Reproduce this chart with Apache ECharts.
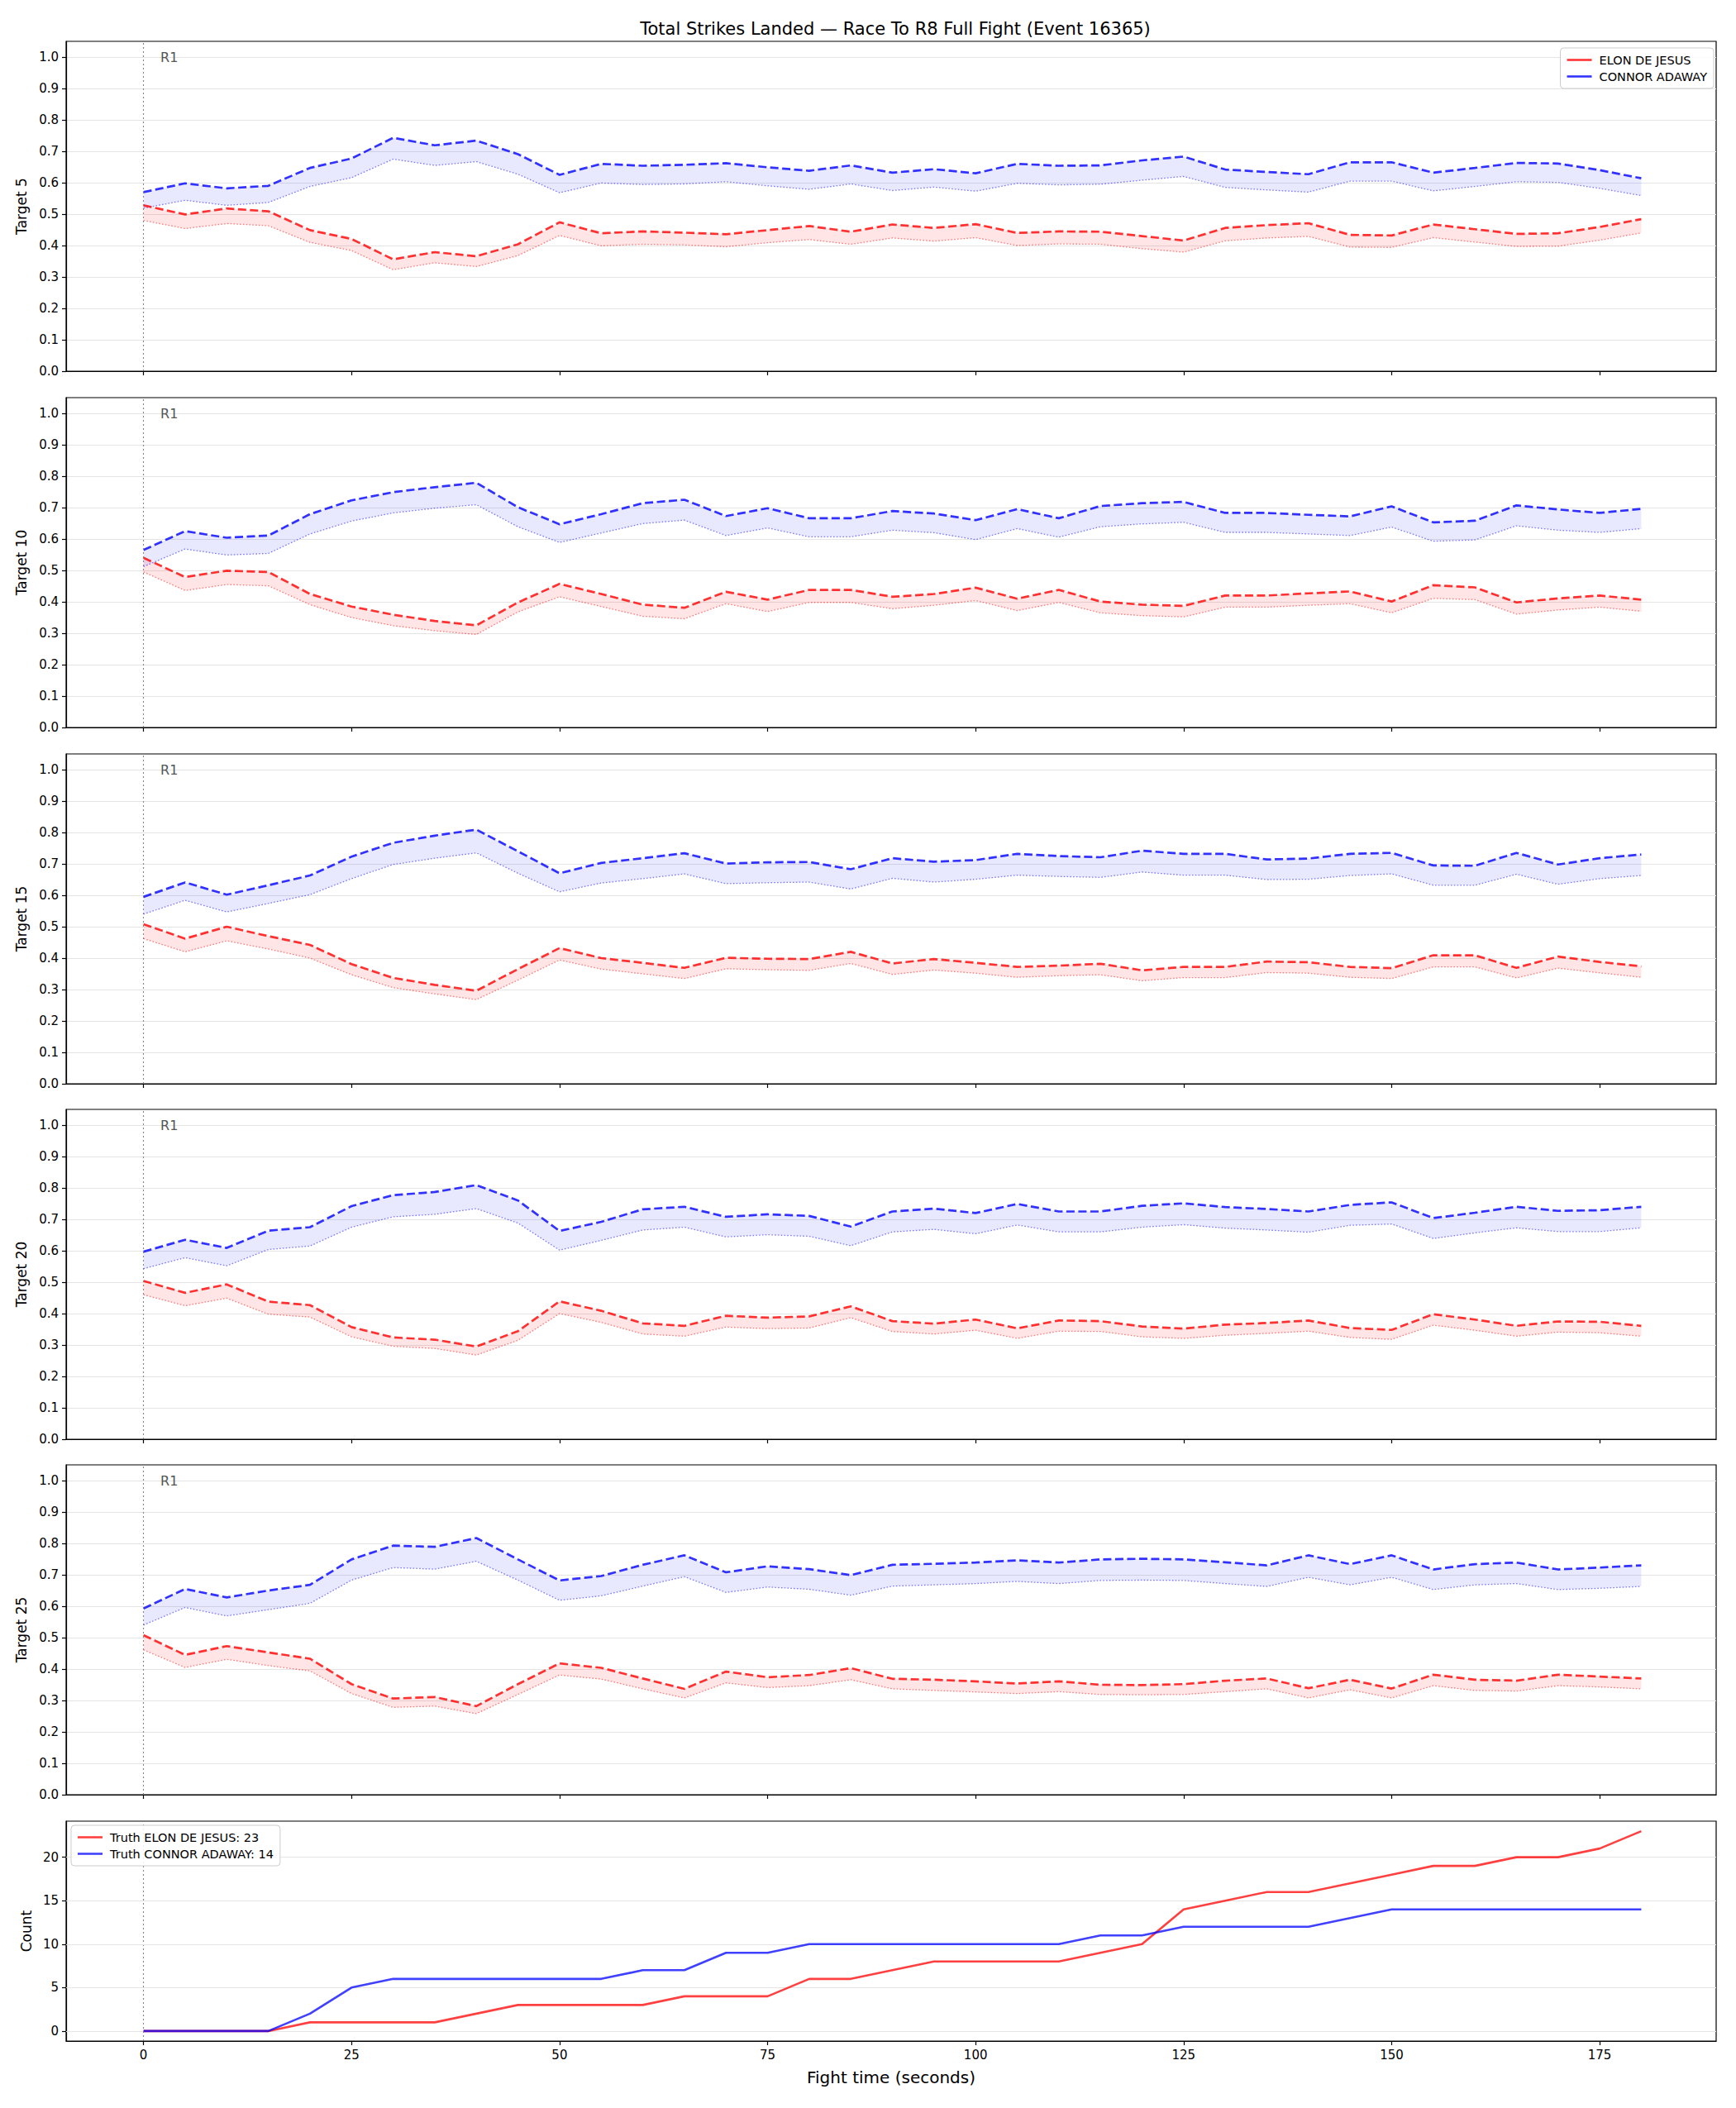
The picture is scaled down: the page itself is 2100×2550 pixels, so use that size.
<!DOCTYPE html>
<html><head><meta charset="utf-8">
<script src="https://cdn.jsdelivr.net/npm/echarts@6/dist/echarts.min.js"></script>
<style>html,body{margin:0;padding:0;background:#fff}#c{width:2100px;height:2550px}</style>
</head><body><div id="c"></div>
<script>
// ---------------- DATA ----------------
const titleText = 'Total Strikes Landed — Race To R8 Full Fight (Event 16365)';
const fighterA = 'ELON DE JESUS';
const fighterB = 'CONNOR ADAWAY';
const times = [0,5,10,15,20,25,30,35,40,45,50,55,60,65,70,75,80,85,90,95,100,105,110,115,120,125,130,135,140,145,150,155,160,165,170,175,180];
const targetNames = ['Target 5','Target 10','Target 15','Target 20','Target 25'];
const xTicks = [0,25,50,75,100,125,150,175];
const yTicksProb = [0,0.1,0.2,0.3,0.4,0.5,0.6,0.7,0.8,0.9,1.0];
const yTicksCount = [0,5,10,15,20];
const roundStarts = [0];
const roundLabels = ['R1'];

// Target 5
const t5_elon_hi = [0.528,0.499,0.518,0.509,0.449,0.421,0.356,0.379,0.366,0.404,0.474,0.439,0.445,0.441,0.436,0.449,0.462,0.444,0.467,0.456,0.468,0.440,0.445,0.444,0.430,0.416,0.456,0.465,0.471,0.434,0.432,0.467,0.452,0.437,0.439,0.459,0.484];
const t5_elon_lo = [0.480,0.454,0.470,0.463,0.410,0.384,0.323,0.345,0.333,0.368,0.432,0.399,0.404,0.402,0.396,0.409,0.419,0.404,0.424,0.414,0.425,0.400,0.405,0.404,0.390,0.379,0.415,0.424,0.429,0.395,0.394,0.425,0.411,0.397,0.398,0.417,0.440];
const t5_connor_hi = [0.570,0.598,0.582,0.590,0.647,0.677,0.743,0.719,0.734,0.691,0.625,0.660,0.654,0.657,0.662,0.649,0.638,0.655,0.632,0.643,0.630,0.660,0.654,0.655,0.671,0.683,0.642,0.634,0.627,0.665,0.665,0.632,0.647,0.663,0.661,0.640,0.614];
const t5_connor_lo = [0.519,0.544,0.528,0.537,0.588,0.616,0.675,0.655,0.667,0.627,0.568,0.599,0.594,0.596,0.603,0.590,0.579,0.596,0.575,0.586,0.573,0.598,0.593,0.595,0.608,0.620,0.585,0.577,0.570,0.605,0.605,0.574,0.588,0.603,0.601,0.582,0.559];
// Target 10
const t10_elon_hi = [0.540,0.479,0.499,0.495,0.425,0.385,0.359,0.339,0.325,0.398,0.457,0.425,0.391,0.381,0.432,0.407,0.438,0.438,0.416,0.425,0.445,0.410,0.438,0.401,0.391,0.387,0.420,0.420,0.427,0.433,0.401,0.453,0.446,0.398,0.411,0.420,0.407];
const t10_elon_lo = [0.495,0.436,0.455,0.451,0.391,0.350,0.324,0.308,0.296,0.368,0.416,0.385,0.354,0.346,0.394,0.369,0.398,0.398,0.378,0.389,0.404,0.372,0.398,0.365,0.356,0.352,0.383,0.383,0.389,0.394,0.365,0.411,0.407,0.361,0.374,0.383,0.370];
const t10_connor_hi = [0.565,0.625,0.604,0.611,0.679,0.723,0.749,0.765,0.779,0.701,0.647,0.679,0.714,0.725,0.673,0.698,0.666,0.666,0.689,0.681,0.660,0.695,0.666,0.705,0.714,0.718,0.683,0.683,0.677,0.672,0.704,0.653,0.658,0.707,0.694,0.683,0.696];
const t10_connor_lo = [0.512,0.568,0.549,0.554,0.616,0.657,0.683,0.698,0.709,0.639,0.589,0.619,0.649,0.660,0.611,0.635,0.607,0.607,0.628,0.620,0.598,0.633,0.606,0.639,0.648,0.653,0.621,0.621,0.616,0.611,0.638,0.593,0.597,0.642,0.628,0.621,0.633];
// Target 15
const t15_elon_hi = [0.508,0.462,0.500,0.470,0.442,0.381,0.337,0.315,0.296,0.365,0.432,0.400,0.385,0.369,0.401,0.398,0.397,0.420,0.383,0.397,0.385,0.372,0.376,0.382,0.361,0.372,0.372,0.389,0.387,0.372,0.368,0.409,0.409,0.369,0.405,0.388,0.374];
const t15_elon_lo = [0.462,0.420,0.455,0.429,0.400,0.347,0.306,0.286,0.268,0.330,0.394,0.365,0.350,0.335,0.366,0.363,0.361,0.383,0.348,0.362,0.352,0.339,0.344,0.347,0.328,0.338,0.338,0.354,0.352,0.339,0.335,0.372,0.372,0.337,0.368,0.353,0.339];
const t15_connor_hi = [0.595,0.641,0.602,0.632,0.663,0.723,0.767,0.790,0.809,0.740,0.670,0.703,0.718,0.734,0.701,0.705,0.706,0.683,0.718,0.707,0.712,0.732,0.725,0.721,0.742,0.732,0.732,0.714,0.717,0.732,0.735,0.695,0.694,0.735,0.698,0.718,0.730];
const t15_connor_lo = [0.540,0.584,0.547,0.574,0.602,0.653,0.698,0.718,0.735,0.670,0.611,0.639,0.653,0.668,0.637,0.640,0.642,0.620,0.654,0.642,0.651,0.664,0.660,0.657,0.674,0.664,0.664,0.650,0.651,0.663,0.668,0.632,0.632,0.667,0.635,0.653,0.663];
// Target 20
const t20_elon_hi = [0.504,0.466,0.493,0.438,0.427,0.357,0.324,0.317,0.295,0.344,0.439,0.409,0.369,0.361,0.393,0.387,0.391,0.423,0.376,0.368,0.381,0.353,0.378,0.376,0.359,0.352,0.365,0.370,0.378,0.354,0.348,0.398,0.381,0.361,0.375,0.374,0.361];
const t20_elon_lo = [0.460,0.425,0.449,0.398,0.389,0.326,0.296,0.289,0.268,0.315,0.400,0.372,0.335,0.328,0.357,0.352,0.354,0.387,0.343,0.335,0.347,0.321,0.344,0.343,0.326,0.321,0.331,0.337,0.344,0.324,0.318,0.363,0.347,0.328,0.341,0.339,0.328];
const t20_connor_hi = [0.597,0.635,0.609,0.664,0.675,0.742,0.777,0.787,0.809,0.760,0.663,0.692,0.732,0.740,0.708,0.716,0.711,0.677,0.725,0.734,0.720,0.749,0.725,0.725,0.743,0.751,0.739,0.733,0.725,0.746,0.754,0.704,0.721,0.740,0.727,0.729,0.740];
const t20_connor_lo = [0.543,0.578,0.552,0.604,0.615,0.675,0.708,0.716,0.734,0.688,0.602,0.633,0.666,0.675,0.644,0.651,0.646,0.616,0.660,0.668,0.654,0.682,0.660,0.660,0.675,0.683,0.672,0.666,0.659,0.681,0.685,0.639,0.657,0.673,0.661,0.661,0.673];
// Target 25
const t25_elon_hi = [0.508,0.445,0.473,0.453,0.433,0.352,0.306,0.311,0.282,0.352,0.418,0.404,0.370,0.337,0.392,0.374,0.381,0.403,0.369,0.366,0.361,0.354,0.361,0.350,0.349,0.352,0.363,0.370,0.339,0.366,0.338,0.382,0.366,0.363,0.382,0.376,0.370];
const t25_elon_lo = [0.461,0.405,0.431,0.411,0.394,0.322,0.278,0.282,0.258,0.319,0.381,0.368,0.337,0.308,0.356,0.341,0.347,0.366,0.337,0.332,0.327,0.322,0.328,0.319,0.318,0.319,0.328,0.337,0.308,0.334,0.308,0.347,0.332,0.330,0.347,0.343,0.337];
const t25_connor_hi = [0.593,0.655,0.628,0.650,0.668,0.749,0.793,0.789,0.817,0.749,0.682,0.696,0.732,0.762,0.708,0.727,0.718,0.699,0.732,0.735,0.739,0.746,0.739,0.749,0.751,0.749,0.740,0.730,0.762,0.734,0.762,0.717,0.734,0.739,0.717,0.723,0.730];
const t25_connor_lo = [0.540,0.596,0.569,0.589,0.609,0.683,0.723,0.718,0.743,0.683,0.619,0.633,0.664,0.694,0.644,0.661,0.654,0.635,0.664,0.668,0.672,0.679,0.672,0.682,0.683,0.682,0.672,0.663,0.692,0.668,0.692,0.653,0.668,0.672,0.653,0.657,0.663];
// Truth cumulative counts
const truth_elon = [0,0,0,0,1,1,1,1,2,3,3,3,3,4,4,4,6,6,7,8,8,8,8,9,10,14,15,16,16,17,18,19,19,20,20,21,23];
const truth_connor = [0,0,0,0,2,5,6,6,6,6,6,6,7,7,9,9,10,10,10,10,10,10,10,11,11,12,12,12,12,13,14,14,14,14,14,14,14];

// ---------------- CHART ----------------
const panels = [
  {name: targetNames[0], ehi: t5_elon_hi, elo: t5_elon_lo, chi: t5_connor_hi, clo: t5_connor_lo},
  {name: targetNames[1], ehi: t10_elon_hi, elo: t10_elon_lo, chi: t10_connor_hi, clo: t10_connor_lo},
  {name: targetNames[2], ehi: t15_elon_hi, elo: t15_elon_lo, chi: t15_connor_hi, clo: t15_connor_lo},
  {name: targetNames[3], ehi: t20_elon_hi, elo: t20_elon_lo, chi: t20_connor_hi, clo: t20_connor_lo},
  {name: targetNames[4], ehi: t25_elon_hi, elo: t25_elon_lo, chi: t25_connor_hi, clo: t25_connor_lo}
];
const FONT = 'DejaVu Sans';
const RED = '#ff0000', BLUE = '#0000ff';
const tops = [50, 481, 912, 1342, 1772];
const PH = 399;
const XMIN = -9.3, XMAX = 189;
const grids = [], xAxes = [], yAxes = [], series = [];

function mkX(i, showLabels) {
  return {
    type: 'value', gridIndex: i, min: XMIN, max: XMAX,
    axisLine: {show: true, onZero: false, lineStyle: {color: '#000', width: 1.2}},
    axisTick: {show: true, length: 5, inside: false, customValues: xTicks, lineStyle: {color: '#000', width: 1.2}},
    axisLabel: {show: showLabels, customValues: xTicks, margin: 9, color: '#000', fontSize: 15, fontFamily: FONT},
    splitLine: {show: false},
    name: showLabels ? 'Fight time (seconds)' : '', nameLocation: 'middle', nameGap: 34,
    nameTextStyle: {fontSize: 20, color: '#000', fontFamily: FONT}
  };
}
function pairs(arr) { return times.map((t, j) => [t, arr[j]]); }

function addBand(gi, lo, hi, color, fill, withMarkers, yTop) {
  // shaded band between lower and upper curves, drawn through the axes' scales
  series.push({
    type: 'custom', xAxisIndex: gi, yAxisIndex: gi, silent: true, z: 1,
    data: [[times[0], lo[0]]],
    renderItem: function (params, api) {
      const upper = times.map((t, j) => api.coord([t, hi[j]]));
      const lower = times.map((t, j) => api.coord([t, lo[j]])).reverse();
      return {type: 'polygon', shape: {points: upper.concat(lower)}, style: {fill: fill, stroke: null}, silent: true};
    }
  });
  const lowerLine = {
    type: 'line', xAxisIndex: gi, yAxisIndex: gi, symbol: 'none', silent: true,
    data: pairs(lo), z: 3,
    lineStyle: {color: color, opacity: 0.5, width: 1.3, type: [1.6, 2.2]}
  };
  if (withMarkers) {
    lowerLine.markLine = {
      silent: true, symbol: 'none', label: {show: false},
      lineStyle: {color: '#7a7a7a', type: [2, 3], width: 1.1, opacity: 0.9},
      data: roundStarts.map(r => ({xAxis: r}))
    };
    lowerLine.markPoint = {
      silent: true, symbol: 'circle', symbolSize: 1, itemStyle: {color: 'rgba(0,0,0,0)'},
      label: {show: true, position: 'right', distance: 20, color: '#555', fontSize: 16, fontFamily: FONT,
              formatter: p => p.name},
      data: roundStarts.map((r, k) => ({name: roundLabels[k], coord: [r, yTop]}))
    };
  }
  series.push(lowerLine);
  series.push({
    type: 'line', xAxisIndex: gi, yAxisIndex: gi, symbol: 'none', silent: true,
    data: pairs(hi), z: 4,
    lineStyle: {color: color, opacity: 0.8, width: 2.7, type: [10, 4.5]}
  });
}

panels.forEach((p, i) => {
  grids.push({left: 80, right: 24, top: tops[i], height: PH, show: true, borderColor: '#000', borderWidth: 1.2,
              backgroundColor: 'rgba(0,0,0,0)', outerBoundsMode: 'none'});
  xAxes.push(mkX(i, false));
  yAxes.push({
    type: 'value', gridIndex: i, min: 0, max: 1.05, interval: 0.1,
    axisLine: {show: true, onZero: false, lineStyle: {color: '#000', width: 1.2}},
    axisTick: {show: true, length: 5, customValues: yTicksProb, lineStyle: {color: '#000', width: 1.2}},
    axisLabel: {customValues: yTicksProb, formatter: v => v.toFixed(1), margin: 9, color: '#000', fontSize: 15, fontFamily: FONT},
    splitLine: {show: true, lineStyle: {color: '#e4e4e4', width: 1}},
    name: p.name, nameLocation: 'middle', nameRotate: 90, nameGap: 46,
    nameTextStyle: {fontSize: 17, color: '#000', fontFamily: FONT}
  });
  addBand(i, p.elo, p.ehi, RED, 'rgba(255,0,0,0.1)', true, 1.0);
  addBand(i, p.clo, p.chi, BLUE, 'rgba(0,0,255,0.09)', false, 1.0);
});

// legend proxies for the top panel
series.push({type: 'line', name: fighterA, xAxisIndex: 0, yAxisIndex: 0, data: [], symbol: 'none',
             color: 'rgba(255,0,0,0.8)', lineStyle: {color: 'rgba(255,0,0,0.8)', width: 2.5}});
series.push({type: 'line', name: fighterB, xAxisIndex: 0, yAxisIndex: 0, data: [], symbol: 'none',
             color: 'rgba(0,0,255,0.8)', lineStyle: {color: 'rgba(0,0,255,0.8)', width: 2.5}});

// bottom panel: truth counts
const CMIN = -1.15, CMAX = 24.15;
grids.push({left: 80, right: 24, top: 2203, height: 266, show: true, borderColor: '#000', borderWidth: 1.2,
            backgroundColor: 'rgba(0,0,0,0)', outerBoundsMode: 'none'});
xAxes.push(mkX(5, true));
yAxes.push({
  type: 'value', gridIndex: 5, min: CMIN, max: CMAX,
  axisLine: {show: true, onZero: false, lineStyle: {color: '#000', width: 1.2}},
  axisTick: {show: true, length: 5, customValues: yTicksCount, lineStyle: {color: '#000', width: 1.2}},
  axisLabel: {customValues: yTicksCount, margin: 9, color: '#000', fontSize: 15, fontFamily: FONT},
  splitLine: {show: false},
  name: 'Count', nameLocation: 'middle', nameRotate: 90, nameGap: 40,
  nameTextStyle: {fontSize: 17, color: '#000', fontFamily: FONT}
});
const truthNameA = 'Truth ' + fighterA + ': ' + truth_elon[truth_elon.length - 1];
const truthNameB = 'Truth ' + fighterB + ': ' + truth_connor[truth_connor.length - 1];
series.push({
  type: 'line', name: truthNameA, xAxisIndex: 5, yAxisIndex: 5, symbol: 'none', silent: true, z: 4,
  data: pairs(truth_elon), color: 'rgba(255,0,0,0.75)',
  lineStyle: {color: 'rgba(255,0,0,0.75)', width: 2.6},
  markLine: {
    silent: true, symbol: 'none', label: {show: false}, z: 1,
    data: roundStarts.map(r => ({xAxis: r, lineStyle: {color: '#7a7a7a', type: [2, 3], width: 1.1, opacity: 0.9}}))
      .concat(yTicksCount.map(v => ({yAxis: v, lineStyle: {color: '#e4e4e4', type: 'solid', width: 1, opacity: 1}})))
  }
});
series.push({
  type: 'line', name: truthNameB, xAxisIndex: 5, yAxisIndex: 5, symbol: 'none', silent: true, z: 4,
  data: pairs(truth_connor), color: 'rgba(0,0,255,0.75)',
  lineStyle: {color: 'rgba(0,0,255,0.75)', width: 2.6}
});

const legendCommon = {
  orient: 'vertical', icon: 'rect', itemWidth: 30, itemHeight: 2.6, itemGap: 5,
  textStyle: {fontSize: 14.5, fontFamily: FONT, color: '#000', padding: [0, 0, 0, 4]},
  padding: [7, 8, 7, 8], borderColor: '#cccccc', borderWidth: 1, borderRadius: 4,
  backgroundColor: 'rgba(255,255,255,0.85)', selectedMode: false
};

const chart = echarts.init(document.getElementById('c'), null, {renderer: 'svg', width: 2100, height: 2550});
chart.setOption({
  animation: false,
  backgroundColor: '#ffffff',
  title: {text: titleText, left: 1078, top: 19, textAlign: 'center',
          textStyle: {fontSize: 21, fontWeight: 'normal', color: '#000', fontFamily: FONT}},
  legend: [
    Object.assign({}, legendCommon, {data: [fighterA, fighterB], right: 27, top: 58}),
    Object.assign({}, legendCommon, {data: [truthNameA, truthNameB], left: 86, top: 2208})
  ],
  grid: grids, xAxis: xAxes, yAxis: yAxes, series: series
});
</script>
</body></html>
